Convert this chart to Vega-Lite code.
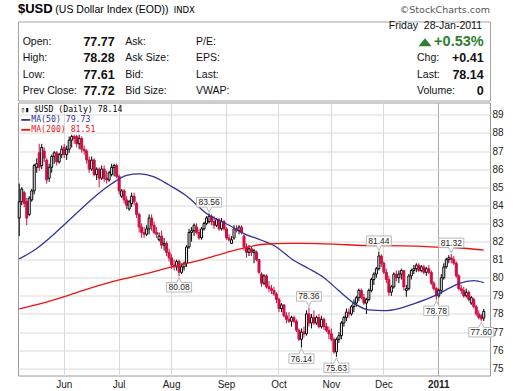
{
"$schema":"https://vega.github.io/schema/vega-lite/v6.json",
"background":"white",
"padding":{"left":16,"top":2.5,"right":0,"bottom":0},
"spacing":0,
"config":{"font":"Liberation Sans","text":{"font":"Liberation Sans"},"axisY":{"labelOverlap":false}},
"datasets":{
"hdr":[
{"row":1,"a":"Open:","b":"77.77","c":"Ask:","e":"P/E:","f":"","g":""},
{"row":2,"a":"High:","b":"78.28","c":"Ask Size:","e":"EPS:","f":"Chg:","g":"+0.41"},
{"row":3,"a":"Low:","b":"77.61","c":"Bid:","e":"Last:","f":"Last:","g":"78.14"},
{"row":4,"a":"Prev Close:","b":"77.72","c":"Bid Size:","e":"VWAP:","f":"Volume:","g":"0"}
],
"top":[
{"t":"Friday\u00a0 28-Jan-2011","row":0}
],
"px":[
{"d":"2010-05-06","o":83.3,"h":85.2,"l":82.3,"c":84.2},
{"d":"2010-05-07","o":84.2,"h":85.0,"l":84.0,"c":84.9},
{"d":"2010-05-10","o":84.7,"h":84.8,"l":83.9,"c":84.1},
{"d":"2010-05-11","o":84.2,"h":84.4,"l":82.9,"c":83.3},
{"d":"2010-05-12","o":83.5,"h":84.5,"l":83.4,"c":84.4},
{"d":"2010-05-13","o":84.3,"h":84.9,"l":84.2,"c":84.8},
{"d":"2010-05-14","o":84.8,"h":86.3,"l":84.6,"c":86.2},
{"d":"2010-05-17","o":86.1,"h":86.6,"l":85.8,"c":86.3},
{"d":"2010-05-18","o":86.9,"h":87.4,"l":85.9,"c":86.1},
{"d":"2010-05-19","o":86.2,"h":87.4,"l":86.0,"c":87.2},
{"d":"2010-05-20","o":87.0,"h":87.2,"l":86.4,"c":86.6},
{"d":"2010-05-21","o":86.5,"h":86.6,"l":85.2,"c":85.4},
{"d":"2010-05-24","o":85.5,"h":86.3,"l":85.3,"c":86.1},
{"d":"2010-05-25","o":86.1,"h":86.8,"l":85.8,"c":86.7},
{"d":"2010-05-26","o":86.7,"h":87.0,"l":86.3,"c":86.9},
{"d":"2010-05-27","o":86.9,"h":87.0,"l":86.2,"c":86.4},
{"d":"2010-05-28","o":86.4,"h":86.9,"l":86.3,"c":86.8},
{"d":"2010-05-31","o":86.8,"h":87.3,"l":86.6,"c":87.1},
{"d":"2010-06-01","o":87.2,"h":87.4,"l":86.6,"c":86.8},
{"d":"2010-06-02","o":86.8,"h":87.3,"l":86.5,"c":87.1},
{"d":"2010-06-03","o":87.1,"h":87.8,"l":86.9,"c":87.6},
{"d":"2010-06-04","o":87.6,"h":87.9,"l":87.2,"c":87.8},
{"d":"2010-06-07","o":87.8,"h":87.9,"l":87.4,"c":87.7},
{"d":"2010-06-08","o":87.8,"h":87.9,"l":87.2,"c":87.4},
{"d":"2010-06-09","o":87.4,"h":87.9,"l":87.1,"c":87.7},
{"d":"2010-06-10","o":87.7,"h":87.8,"l":86.9,"c":87.1},
{"d":"2010-06-11","o":87.1,"h":87.3,"l":86.8,"c":87.0},
{"d":"2010-06-14","o":87.0,"h":87.1,"l":86.3,"c":86.5},
{"d":"2010-06-15","o":86.5,"h":86.7,"l":85.8,"c":86.0},
{"d":"2010-06-16","o":86.0,"h":86.7,"l":85.9,"c":86.5},
{"d":"2010-06-17","o":86.5,"h":86.6,"l":85.6,"c":85.7},
{"d":"2010-06-18","o":85.7,"h":86.1,"l":85.4,"c":86.0},
{"d":"2010-06-21","o":86.0,"h":86.1,"l":85.0,"c":85.5},
{"d":"2010-06-22","o":85.5,"h":86.2,"l":85.4,"c":86.0},
{"d":"2010-06-23","o":86.0,"h":86.2,"l":85.3,"c":85.5},
{"d":"2010-06-24","o":85.5,"h":85.9,"l":85.2,"c":85.4},
{"d":"2010-06-25","o":85.4,"h":85.9,"l":85.3,"c":85.8},
{"d":"2010-06-28","o":85.7,"h":86.3,"l":85.6,"c":86.1},
{"d":"2010-06-29","o":86.1,"h":86.3,"l":85.6,"c":86.2},
{"d":"2010-06-30","o":86.2,"h":86.3,"l":85.5,"c":85.6},
{"d":"2010-07-01","o":85.6,"h":85.7,"l":84.6,"c":84.8},
{"d":"2010-07-02","o":84.5,"h":84.9,"l":84.4,"c":84.8},
{"d":"2010-07-06","o":84.8,"h":84.9,"l":84.1,"c":84.3},
{"d":"2010-07-07","o":84.3,"h":84.5,"l":83.8,"c":84.0},
{"d":"2010-07-08","o":83.8,"h":84.3,"l":83.7,"c":84.2},
{"d":"2010-07-09","o":84.1,"h":84.7,"l":83.9,"c":84.5},
{"d":"2010-07-12","o":84.5,"h":84.7,"l":84.0,"c":84.2},
{"d":"2010-07-13","o":84.1,"h":84.2,"l":83.3,"c":83.5},
{"d":"2010-07-14","o":83.5,"h":83.6,"l":82.5,"c":82.8},
{"d":"2010-07-15","o":82.8,"h":83.0,"l":82.2,"c":82.5},
{"d":"2010-07-16","o":82.5,"h":82.8,"l":82.2,"c":82.4},
{"d":"2010-07-19","o":82.4,"h":82.9,"l":82.3,"c":82.7},
{"d":"2010-07-20","o":82.7,"h":83.5,"l":82.4,"c":83.3},
{"d":"2010-07-21","o":83.3,"h":83.5,"l":82.6,"c":82.9},
{"d":"2010-07-22","o":82.9,"h":83.1,"l":82.4,"c":82.5},
{"d":"2010-07-23","o":82.5,"h":82.8,"l":82.2,"c":82.4},
{"d":"2010-07-26","o":82.1,"h":82.5,"l":82.0,"c":82.3},
{"d":"2010-07-27","o":82.3,"h":82.6,"l":81.6,"c":81.8},
{"d":"2010-07-28","o":81.8,"h":82.2,"l":81.5,"c":81.9},
{"d":"2010-07-29","o":81.9,"h":82.0,"l":81.2,"c":81.4},
{"d":"2010-07-30","o":81.4,"h":81.6,"l":80.9,"c":81.1},
{"d":"2010-08-02","o":81.1,"h":81.3,"l":80.5,"c":80.7},
{"d":"2010-08-03","o":80.7,"h":81.0,"l":80.4,"c":80.6},
{"d":"2010-08-04","o":80.6,"h":81.0,"l":80.4,"c":80.9},
{"d":"2010-08-05","o":80.9,"h":81.0,"l":80.08,"c":80.3},
{"d":"2010-08-06","o":80.3,"h":80.8,"l":80.2,"c":80.6},
{"d":"2010-08-09","o":80.6,"h":80.9,"l":80.4,"c":80.8},
{"d":"2010-08-10","o":80.8,"h":81.8,"l":80.6,"c":81.7},
{"d":"2010-08-11","o":81.7,"h":82.7,"l":81.6,"c":82.5},
{"d":"2010-08-12","o":82.5,"h":82.8,"l":82.0,"c":82.6},
{"d":"2010-08-13","o":82.6,"h":83.0,"l":82.3,"c":82.9},
{"d":"2010-08-16","o":82.8,"h":83.0,"l":82.4,"c":82.5},
{"d":"2010-08-17","o":82.5,"h":82.7,"l":82.1,"c":82.2},
{"d":"2010-08-18","o":82.2,"h":82.8,"l":82.1,"c":82.7},
{"d":"2010-08-19","o":82.7,"h":83.1,"l":82.6,"c":83.0},
{"d":"2010-08-20","o":83.0,"h":83.4,"l":82.9,"c":83.3},
{"d":"2010-08-23","o":83.1,"h":83.56,"l":83.0,"c":83.4},
{"d":"2010-08-24","o":83.4,"h":83.5,"l":82.9,"c":83.1},
{"d":"2010-08-25","o":83.1,"h":83.4,"l":82.7,"c":82.9},
{"d":"2010-08-26","o":82.9,"h":83.3,"l":82.8,"c":83.2},
{"d":"2010-08-27","o":83.2,"h":83.3,"l":82.6,"c":82.7},
{"d":"2010-08-30","o":82.7,"h":83.3,"l":82.6,"c":83.1},
{"d":"2010-08-31","o":83.1,"h":83.2,"l":82.6,"c":82.7},
{"d":"2010-09-01","o":82.7,"h":82.8,"l":82.1,"c":82.2},
{"d":"2010-09-02","o":82.2,"h":82.4,"l":82.0,"c":82.1},
{"d":"2010-09-03","o":81.9,"h":82.3,"l":81.9,"c":82.1},
{"d":"2010-09-07","o":82.2,"h":82.9,"l":82.1,"c":82.7},
{"d":"2010-09-08","o":82.7,"h":82.9,"l":82.5,"c":82.6},
{"d":"2010-09-09","o":82.6,"h":82.9,"l":82.4,"c":82.8},
{"d":"2010-09-10","o":82.8,"h":82.9,"l":82.4,"c":82.5},
{"d":"2010-09-13","o":82.3,"h":82.4,"l":81.5,"c":81.7},
{"d":"2010-09-14","o":81.7,"h":81.9,"l":81.1,"c":81.4},
{"d":"2010-09-15","o":81.4,"h":81.8,"l":81.2,"c":81.6},
{"d":"2010-09-16","o":81.6,"h":81.7,"l":81.2,"c":81.4},
{"d":"2010-09-17","o":81.4,"h":81.6,"l":80.8,"c":81.5},
{"d":"2010-09-20","o":81.4,"h":81.5,"l":80.9,"c":81.0},
{"d":"2010-09-21","o":81.0,"h":81.0,"l":80.2,"c":80.3},
{"d":"2010-09-22","o":80.2,"h":80.3,"l":79.5,"c":79.7},
{"d":"2010-09-23","o":79.7,"h":80.2,"l":79.6,"c":80.1},
{"d":"2010-09-24","o":80.1,"h":80.2,"l":79.4,"c":79.5},
{"d":"2010-09-27","o":79.5,"h":79.8,"l":79.2,"c":79.4},
{"d":"2010-09-28","o":79.4,"h":79.6,"l":79.1,"c":79.3},
{"d":"2010-09-29","o":79.3,"h":79.5,"l":79.0,"c":79.1},
{"d":"2010-09-30","o":79.1,"h":79.2,"l":78.6,"c":78.8},
{"d":"2010-10-01","o":78.8,"h":78.9,"l":78.1,"c":78.3},
{"d":"2010-10-04","o":78.3,"h":78.6,"l":78.1,"c":78.5},
{"d":"2010-10-05","o":78.5,"h":78.5,"l":77.8,"c":77.9},
{"d":"2010-10-06","o":77.9,"h":78.1,"l":77.5,"c":77.7},
{"d":"2010-10-07","o":77.7,"h":78.1,"l":77.5,"c":77.6},
{"d":"2010-10-08","o":77.6,"h":77.9,"l":77.3,"c":77.8},
{"d":"2010-10-11","o":77.8,"h":77.9,"l":77.5,"c":77.6},
{"d":"2010-10-12","o":77.6,"h":77.7,"l":77.0,"c":77.1},
{"d":"2010-10-13","o":77.1,"h":77.2,"l":76.5,"c":76.6},
{"d":"2010-10-14","o":76.6,"h":77.2,"l":76.14,"c":77.0},
{"d":"2010-10-15","o":77.0,"h":77.3,"l":76.7,"c":76.9},
{"d":"2010-10-18","o":76.9,"h":78.2,"l":76.8,"c":78.0},
{"d":"2010-10-19","o":78.0,"h":78.36,"l":77.3,"c":77.5},
{"d":"2010-10-20","o":77.5,"h":78.0,"l":77.2,"c":77.8},
{"d":"2010-10-21","o":77.8,"h":78.2,"l":77.4,"c":77.5},
{"d":"2010-10-22","o":77.5,"h":77.9,"l":77.4,"c":77.8},
{"d":"2010-10-25","o":77.8,"h":78.0,"l":77.2,"c":77.3},
{"d":"2010-10-26","o":77.3,"h":77.9,"l":77.2,"c":77.7},
{"d":"2010-10-27","o":77.7,"h":77.8,"l":77.1,"c":77.3},
{"d":"2010-10-28","o":77.3,"h":77.5,"l":77.0,"c":77.1},
{"d":"2010-10-29","o":77.1,"h":77.3,"l":76.6,"c":76.9},
{"d":"2010-11-01","o":76.9,"h":77.2,"l":76.5,"c":76.6},
{"d":"2010-11-02","o":76.6,"h":76.7,"l":75.8,"c":75.9},
{"d":"2010-11-03","o":75.9,"h":76.7,"l":75.63,"c":76.6},
{"d":"2010-11-04","o":76.6,"h":77.0,"l":76.4,"c":76.8},
{"d":"2010-11-05","o":76.8,"h":77.6,"l":76.6,"c":77.5},
{"d":"2010-11-08","o":77.5,"h":77.9,"l":77.3,"c":77.8},
{"d":"2010-11-09","o":77.8,"h":78.3,"l":77.6,"c":78.1},
{"d":"2010-11-10","o":78.1,"h":78.3,"l":77.8,"c":78.0},
{"d":"2010-11-11","o":78.0,"h":78.5,"l":77.9,"c":78.4},
{"d":"2010-11-12","o":78.4,"h":78.8,"l":78.1,"c":78.6},
{"d":"2010-11-15","o":78.6,"h":79.0,"l":78.4,"c":78.9},
{"d":"2010-11-16","o":78.9,"h":79.4,"l":78.7,"c":79.3},
{"d":"2010-11-17","o":79.3,"h":79.4,"l":78.8,"c":78.9},
{"d":"2010-11-18","o":78.9,"h":79.1,"l":78.5,"c":78.6},
{"d":"2010-11-19","o":78.6,"h":78.9,"l":78.0,"c":78.8},
{"d":"2010-11-22","o":78.8,"h":79.4,"l":78.7,"c":79.3},
{"d":"2010-11-23","o":79.3,"h":80.0,"l":79.2,"c":79.9},
{"d":"2010-11-24","o":79.9,"h":80.3,"l":79.6,"c":80.2},
{"d":"2010-11-26","o":80.2,"h":80.6,"l":80.0,"c":80.5},
{"d":"2010-11-29","o":80.5,"h":81.44,"l":80.4,"c":81.2},
{"d":"2010-11-30","o":81.2,"h":81.3,"l":80.6,"c":80.8},
{"d":"2010-12-01","o":80.8,"h":80.9,"l":80.2,"c":80.3},
{"d":"2010-12-02","o":80.3,"h":80.5,"l":79.7,"c":79.9},
{"d":"2010-12-03","o":79.9,"h":80.1,"l":79.0,"c":79.2},
{"d":"2010-12-06","o":79.2,"h":79.6,"l":79.0,"c":79.5},
{"d":"2010-12-07","o":79.5,"h":80.3,"l":79.4,"c":80.2},
{"d":"2010-12-08","o":80.2,"h":80.4,"l":79.8,"c":80.0},
{"d":"2010-12-09","o":80.0,"h":80.4,"l":79.7,"c":80.2},
{"d":"2010-12-10","o":80.2,"h":80.5,"l":79.9,"c":80.4},
{"d":"2010-12-13","o":80.4,"h":80.4,"l":79.3,"c":79.5},
{"d":"2010-12-14","o":79.3,"h":79.6,"l":78.95,"c":79.4},
{"d":"2010-12-15","o":79.4,"h":80.2,"l":79.3,"c":80.1},
{"d":"2010-12-16","o":80.1,"h":80.5,"l":79.9,"c":80.4},
{"d":"2010-12-17","o":80.4,"h":80.7,"l":80.2,"c":80.5},
{"d":"2010-12-20","o":80.5,"h":80.8,"l":80.3,"c":80.7},
{"d":"2010-12-21","o":80.7,"h":80.8,"l":80.3,"c":80.4},
{"d":"2010-12-22","o":80.4,"h":80.7,"l":80.3,"c":80.6},
{"d":"2010-12-23","o":80.6,"h":80.7,"l":80.2,"c":80.3},
{"d":"2010-12-27","o":80.3,"h":80.6,"l":80.1,"c":80.5},
{"d":"2010-12-28","o":80.5,"h":80.7,"l":80.2,"c":80.3},
{"d":"2010-12-29","o":80.3,"h":80.4,"l":79.6,"c":79.7},
{"d":"2010-12-30","o":79.7,"h":79.8,"l":79.3,"c":79.4},
{"d":"2010-12-31","o":79.4,"h":79.5,"l":78.78,"c":79.0},
{"d":"2011-01-03","o":79.0,"h":79.4,"l":78.9,"c":79.3},
{"d":"2011-01-04","o":79.3,"h":80.2,"l":79.1,"c":80.0},
{"d":"2011-01-05","o":80.0,"h":80.8,"l":79.9,"c":80.6},
{"d":"2011-01-06","o":80.6,"h":81.1,"l":80.5,"c":81.0},
{"d":"2011-01-07","o":81.0,"h":81.25,"l":80.8,"c":81.1},
{"d":"2011-01-10","o":81.1,"h":81.32,"l":80.8,"c":81.0},
{"d":"2011-01-11","o":81.0,"h":81.2,"l":80.7,"c":80.8},
{"d":"2011-01-12","o":80.8,"h":80.9,"l":80.0,"c":80.1},
{"d":"2011-01-13","o":80.1,"h":80.2,"l":79.3,"c":79.4},
{"d":"2011-01-14","o":79.4,"h":79.6,"l":79.1,"c":79.3},
{"d":"2011-01-18","o":79.3,"h":79.5,"l":78.9,"c":79.0},
{"d":"2011-01-19","o":79.0,"h":79.4,"l":78.9,"c":79.2},
{"d":"2011-01-20","o":79.2,"h":79.3,"l":78.7,"c":78.8},
{"d":"2011-01-21","o":78.6,"h":79.0,"l":78.5,"c":78.9},
{"d":"2011-01-24","o":78.8,"h":78.9,"l":78.3,"c":78.4},
{"d":"2011-01-25","o":78.4,"h":78.5,"l":77.9,"c":78.0},
{"d":"2011-01-26","o":78.0,"h":78.2,"l":77.7,"c":77.8},
{"d":"2011-01-27","o":77.9,"h":78.0,"l":77.6,"c":77.72},
{"d":"2011-01-28","o":77.77,"h":78.28,"l":77.61,"c":78.14}
],
"ma":[
{"d":"2010-05-06","s":"MA50","v":81.04},{"d":"2010-05-17","s":"MA50","v":81.62},{"d":"2010-05-26","s":"MA50","v":82.42},{"d":"2010-06-01","s":"MA50","v":82.93},{"d":"2010-06-09","s":"MA50","v":83.7},{"d":"2010-06-17","s":"MA50","v":84.45},{"d":"2010-06-28","s":"MA50","v":85.19},{"d":"2010-07-07","s":"MA50","v":85.66},{"d":"2010-07-14","s":"MA50","v":85.74},{"d":"2010-07-22","s":"MA50","v":85.57},{"d":"2010-07-30","s":"MA50","v":85.12},{"d":"2010-08-10","s":"MA50","v":84.52},{"d":"2010-08-20","s":"MA50","v":83.55},{"d":"2010-09-02","s":"MA50","v":82.9},{"d":"2010-09-13","s":"MA50","v":82.44},{"d":"2010-09-22","s":"MA50","v":82.07},{"d":"2010-09-29","s":"MA50","v":81.78},{"d":"2010-10-11","s":"MA50","v":80.95},{"d":"2010-10-19","s":"MA50","v":80.5},{"d":"2010-10-27","s":"MA50","v":80.0},{"d":"2010-11-04","s":"MA50","v":79.28},{"d":"2010-11-12","s":"MA50","v":78.6},{"d":"2010-11-22","s":"MA50","v":78.22},{"d":"2010-12-01","s":"MA50","v":78.18},{"d":"2010-12-09","s":"MA50","v":78.3},{"d":"2010-12-17","s":"MA50","v":78.56},{"d":"2010-12-30","s":"MA50","v":78.98},{"d":"2011-01-05","s":"MA50","v":79.26},{"d":"2011-01-13","s":"MA50","v":79.68},{"d":"2011-01-24","s":"MA50","v":79.84},{"d":"2011-01-28","s":"MA50","v":79.73},
{"d":"2010-05-06","s":"MA200","v":78.28},{"d":"2010-05-17","s":"MA200","v":78.51},{"d":"2010-06-01","s":"MA200","v":78.96},{"d":"2010-06-11","s":"MA200","v":79.32},{"d":"2010-07-01","s":"MA200","v":79.88},{"d":"2010-07-16","s":"MA200","v":80.2},{"d":"2010-08-02","s":"MA200","v":80.6},{"d":"2010-08-19","s":"MA200","v":81.03},{"d":"2010-08-31","s":"MA200","v":81.35},{"d":"2010-09-23","s":"MA200","v":81.85},{"d":"2010-10-07","s":"MA200","v":81.9},{"d":"2010-10-15","s":"MA200","v":81.9},{"d":"2010-11-02","s":"MA200","v":81.86},{"d":"2010-11-18","s":"MA200","v":81.78},{"d":"2010-12-13","s":"MA200","v":81.76},{"d":"2011-01-03","s":"MA200","v":81.69},{"d":"2011-01-18","s":"MA200","v":81.63},{"d":"2011-01-28","s":"MA200","v":81.52}
],
"co":[
{"d":"2010-08-23","v":83.56,"k":"hi"},
{"d":"2010-08-05","v":80.08,"k":"lo"},
{"d":"2010-10-19","v":78.36,"k":"hi"},
{"d":"2010-10-14","v":76.14,"k":"lo"},
{"d":"2010-11-03","v":75.63,"k":"lo"},
{"d":"2010-11-29","v":81.44,"k":"hi"},
{"d":"2011-01-10","v":81.32,"k":"hi"},
{"d":"2010-12-31","v":78.78,"k":"lo"},
{"d":"2011-01-27","v":77.60,"k":"lo"}
]
},
"vconcat":[
{
"width":472,"height":79,
"view":{"stroke":"#a3a3a3","strokeWidth":1},
"layer":[
{"data":{"name":"hdr"},"mark":{"type":"text","align":"left","baseline":"middle","font":"Liberation Sans","fontSize":10.5,"color":"#111"},
 "encoding":{"x":{"datum":4.7,"type":"quantitative","scale":{"domain":[0,472],"nice":false,"zero":false},"axis":null},
  "y":{"field":"row","type":"quantitative","scale":{"domain":[-0.277,4.585],"nice":false,"zero":false,"reverse":true},"axis":null},"text":{"field":"a"}}},
{"data":{"name":"hdr"},"mark":{"type":"text","align":"right","baseline":"middle","font":"Liberation Sans","fontSize":12.5,"fontWeight":"bold","color":"#111"},
 "encoding":{"x":{"datum":96.7,"type":"quantitative","scale":{"domain":[0,472],"nice":false,"zero":false},"axis":null},
  "y":{"field":"row","type":"quantitative","scale":{"domain":[-0.277,4.585],"nice":false,"zero":false,"reverse":true},"axis":null},"text":{"field":"b"}}},
{"data":{"name":"hdr"},"mark":{"type":"text","align":"left","baseline":"middle","font":"Liberation Sans","fontSize":10.5,"color":"#111"},
 "encoding":{"x":{"datum":107.3,"type":"quantitative","scale":{"domain":[0,472],"nice":false,"zero":false},"axis":null},
  "y":{"field":"row","type":"quantitative","scale":{"domain":[-0.277,4.585],"nice":false,"zero":false,"reverse":true},"axis":null},"text":{"field":"c"}}},
{"data":{"name":"hdr"},"mark":{"type":"text","align":"left","baseline":"middle","font":"Liberation Sans","fontSize":10.5,"color":"#111"},
 "encoding":{"x":{"datum":178,"type":"quantitative","scale":{"domain":[0,472],"nice":false,"zero":false},"axis":null},
  "y":{"field":"row","type":"quantitative","scale":{"domain":[-0.277,4.585],"nice":false,"zero":false,"reverse":true},"axis":null},"text":{"field":"e"}}},
{"data":{"name":"hdr"},"mark":{"type":"text","align":"left","baseline":"middle","font":"Liberation Sans","fontSize":10.5,"color":"#111"},
 "encoding":{"x":{"datum":399,"type":"quantitative","scale":{"domain":[0,472],"nice":false,"zero":false},"axis":null},
  "y":{"field":"row","type":"quantitative","scale":{"domain":[-0.277,4.585],"nice":false,"zero":false,"reverse":true},"axis":null},"text":{"field":"f"}}},
{"data":{"name":"hdr"},"mark":{"type":"text","align":"right","baseline":"middle","font":"Liberation Sans","fontSize":12.5,"fontWeight":"bold","color":"#111"},
 "encoding":{"x":{"datum":465.7,"type":"quantitative","scale":{"domain":[0,472],"nice":false,"zero":false},"axis":null},
  "y":{"field":"row","type":"quantitative","scale":{"domain":[-0.277,4.585],"nice":false,"zero":false,"reverse":true},"axis":null},"text":{"field":"g"}}},
{"data":{"name":"top"},"mark":{"type":"text","align":"right","baseline":"middle","font":"Liberation Sans","fontSize":10.5,"color":"#111"},
 "encoding":{"x":{"datum":464,"type":"quantitative","scale":{"domain":[0,472],"nice":false,"zero":false},"axis":null},
  "y":{"field":"row","type":"quantitative","scale":{"domain":[-0.277,4.585],"nice":false,"zero":false,"reverse":true},"axis":null},"text":{"field":"t"}}},
{"data":{"values":[{"t":"+0.53%"}]},
 "mark":{"type":"text","align":"right","baseline":"middle","font":"Liberation Sans","fontSize":14.5,"fontWeight":"bold","color":"#2f7f2f"},
 "encoding":{"x":{"datum":465.7,"type":"quantitative","scale":{"domain":[0,472],"nice":false,"zero":false},"axis":null},
  "y":{"datum":1,"type":"quantitative","scale":{"domain":[-0.277,4.585],"nice":false,"zero":false,"reverse":true},"axis":null},"text":{"field":"t"}}},
{"data":{"values":[{"t":"up"}]},
 "mark":{"type":"point","shape":"M-1,0.62L0,-0.62L1,0.62Z","size":169,"filled":true,"color":"#2f7f2f","opacity":1},
 "encoding":{"x":{"datum":407,"type":"quantitative","scale":{"domain":[0,472],"nice":false,"zero":false},"axis":null},
  "y":{"datum":1,"type":"quantitative","scale":{"domain":[-0.277,4.585],"nice":false,"zero":false,"reverse":true},"axis":null}}},
{"data":{"values":[{"t":"$USD"}]},
 "mark":{"type":"text","align":"left","baseline":"alphabetic","font":"Liberation Sans","fontSize":13,"fontWeight":"bold","color":"#000"},
 "encoding":{"x":{"datum":0,"type":"quantitative","scale":{"domain":[0,472],"nice":false,"zero":false},"axis":null},
  "y":{"datum":-0.775,"type":"quantitative","scale":{"domain":[-0.277,4.585],"nice":false,"zero":false,"reverse":true},"axis":null},"text":{"field":"t"}}},
{"data":{"values":[{"t":"(US Dollar Index (EOD))"}]},
 "mark":{"type":"text","align":"left","baseline":"alphabetic","font":"Liberation Sans","fontSize":10.5,"color":"#000"},
 "encoding":{"x":{"datum":37.3,"type":"quantitative","scale":{"domain":[0,472],"nice":false,"zero":false},"axis":null},
  "y":{"datum":-0.775,"type":"quantitative","scale":{"domain":[-0.277,4.585],"nice":false,"zero":false,"reverse":true},"axis":null},"text":{"field":"t"}}},
{"data":{"values":[{"t":"INDX"}]},
 "mark":{"type":"text","align":"left","baseline":"alphabetic","font":"DejaVu Sans","fontSize":8.5,"color":"#000"},
 "encoding":{"x":{"datum":155.7,"type":"quantitative","scale":{"domain":[0,472],"nice":false,"zero":false},"axis":null},
  "y":{"datum":-0.775,"type":"quantitative","scale":{"domain":[-0.277,4.585],"nice":false,"zero":false,"reverse":true},"axis":null},"text":{"field":"t"}}},
{"data":{"values":[{"t":"\u00a9StockCharts.com"}]},
 "mark":{"type":"text","align":"right","baseline":"alphabetic","font":"DejaVu Sans","fontSize":9.5,"color":"#555"},
 "encoding":{"x":{"datum":472,"type":"quantitative","scale":{"domain":[0,472],"nice":false,"zero":false},"axis":null},
  "y":{"datum":-0.775,"type":"quantitative","scale":{"domain":[-0.277,4.585],"nice":false,"zero":false,"reverse":true},"axis":null},"text":{"field":"t"}}}
]
},
{
"width":472,"height":273,
"view":{"stroke":"#9a9a9a","strokeWidth":1},
"encoding":{"x":{"field":"d","type":"ordinal","title":null,
  "scale":{"type":"band","paddingInner":0,"paddingOuter":0,"domain":{"unionWith":["2011-01-31","2011-02-01"]}},
  "axis":{"values":["2010-06-01","2010-07-01","2010-08-02","2010-09-01","2010-10-01","2010-11-01","2010-12-01","2011-01-03"],
    "labelExpr":"datum.value == '2011-01-03' ? '2011' : utcFormat(toDate(datum.value), '%b')",
    "bandPosition":0.5,"grid":true,
    "gridColor":{"condition":{"test":"datum.value == '2011-01-03'","value":"#a8a8a8"},"value":"#dadada"},
    "ticks":false,"domain":false,"labelAngle":0,"labelPadding":4,"labelFont":"Liberation Sans","labelFontSize":10,"labelColor":"#222",
    "labelFontWeight":{"condition":{"test":"datum.value == '2011-01-03'","value":"bold"},"value":"normal"},"title":null}}},
"layer":[
{"data":{"name":"px"},
 "mark":{"type":"rule","strokeWidth":1},
 "encoding":{"y":{"field":"l","type":"quantitative","title":null,"scale":{"domain":[74.6,89.68],"nice":false,"zero":false},
   "axis":{"orient":"right","values":[75,76,77,78,79,80,81,82,83,84,85,86,87,88,89],"format":"d","tickCount":30,"labelOverlap":false,"grid":true,"gridColor":"#dadada","ticks":false,"domain":false,"labelFont":"Liberation Sans","labelFontSize":10,"labelColor":"#222","labelPadding":2,"title":null}},
   "y2":{"field":"h"},
   "color":{"condition":{"test":"datum.c < datum.o","value":"#cc1144"},"value":"#000000"}}},
{"data":{"name":"px"},
 "mark":{"type":"bar","width":2,"strokeWidth":1},
 "encoding":{"y":{"field":"o","type":"quantitative","title":null,"scale":{"domain":[74.6,89.68],"nice":false,"zero":false},
   "axis":{"orient":"right","values":[75,76,77,78,79,80,81,82,83,84,85,86,87,88,89],"format":"d","tickCount":30,"labelOverlap":false,"grid":true,"gridColor":"#dadada","ticks":false,"domain":false,"labelFont":"Liberation Sans","labelFontSize":10,"labelColor":"#222","labelPadding":2,"title":null}},
   "y2":{"field":"c"},
   "fill":{"condition":{"test":"datum.c < datum.o","value":"#cc1144"},"value":"#ffffff"},
   "stroke":{"condition":{"test":"datum.c < datum.o","value":"#cc1144"},"value":"#000000"}}},
{"data":{"name":"ma"},
 "mark":{"type":"line","strokeWidth":1.3,"interpolate":"monotone"},
 "encoding":{"y":{"field":"v","type":"quantitative","title":null,"scale":{"domain":[74.6,89.68],"nice":false,"zero":false},
   "axis":{"orient":"right","values":[75,76,77,78,79,80,81,82,83,84,85,86,87,88,89],"format":"d","tickCount":30,"labelOverlap":false,"grid":true,"gridColor":"#dadada","ticks":false,"domain":false,"labelFont":"Liberation Sans","labelFontSize":10,"labelColor":"#222","labelPadding":2,"title":null}},
   "color":{"field":"s","type":"nominal","scale":{"domain":["MA50","MA200"],"range":["#333399","#ee1111"]},"legend":null}}},
{"data":{"name":"co"},"transform":[{"filter":"datum.k == 'hi'"}],
 "mark":{"type":"point","shape":"M-1,-0.38H1V0.38H0.2L0,0.8L-0.2,0.38H-1Z","size":625,"filled":true,"fill":"#ffffff","stroke":"#b8b8b8","strokeWidth":1,"opacity":1,"yOffset":-11},
 "encoding":{"y":{"field":"v","type":"quantitative","title":null,"scale":{"domain":[74.6,89.68],"nice":false,"zero":false}}}},
{"data":{"name":"co"},"transform":[{"filter":"datum.k == 'hi'"}],
 "mark":{"type":"text","baseline":"middle","dy":-11,"font":"Liberation Sans","fontSize":8.5,"color":"#222"},
 "encoding":{"y":{"field":"v","type":"quantitative","title":null,"scale":{"domain":[74.6,89.68],"nice":false,"zero":false}},
   "text":{"field":"v","type":"quantitative","format":".2f"}}},
{"data":{"name":"co"},"transform":[{"filter":"datum.k == 'lo'"}],
 "mark":{"type":"point","shape":"M-1,0.38H1V-0.38H0.2L0,-0.8L-0.2,-0.38H-1Z","size":625,"filled":true,"fill":"#ffffff","stroke":"#b8b8b8","strokeWidth":1,"opacity":1,"yOffset":11},
 "encoding":{"y":{"field":"v","type":"quantitative","title":null,"scale":{"domain":[74.6,89.68],"nice":false,"zero":false}}}},
{"data":{"name":"co"},"transform":[{"filter":"datum.k == 'lo'"}],
 "mark":{"type":"text","baseline":"middle","dy":11,"font":"Liberation Sans","fontSize":8.5,"color":"#222"},
 "encoding":{"y":{"field":"v","type":"quantitative","title":null,"scale":{"domain":[74.6,89.68],"nice":false,"zero":false}},
   "text":{"field":"v","type":"quantitative","format":".2f"}}},
{"data":{"values":[{"t":"\u25af\u25ae"}]},
 "mark":{"type":"text","align":"left","baseline":"middle","dx":1.5,"font":"DejaVu Sans Mono","fontSize":7,"color":"#000"},
 "encoding":{"x":{"datum":"2010-05-06","type":"ordinal","title":null,"scale":{"type":"band","paddingInner":0,"paddingOuter":0,"domain":{"unionWith":["2011-01-31","2011-02-01"]}}},
   "y":{"datum":89.28,"type":"quantitative","title":null,"scale":{"domain":[74.6,89.68],"nice":false,"zero":false}},"text":{"field":"t"}}},
{"data":{"values":[{"t":"$USD (Daily) 78.14"}]},
 "mark":{"type":"text","align":"left","baseline":"middle","dx":14.4,"font":"DejaVu Sans Mono","fontSize":8.2,"color":"#000"},
 "encoding":{"x":{"datum":"2010-05-06","type":"ordinal","title":null,"scale":{"type":"band","paddingInner":0,"paddingOuter":0,"domain":{"unionWith":["2011-01-31","2011-02-01"]}}},
   "y":{"datum":89.28,"type":"quantitative","title":null,"scale":{"domain":[74.6,89.68],"nice":false,"zero":false}},"text":{"field":"t"}}},
{"data":{"values":[{"s":"MA50","y":88.72},{"s":"MA200","y":88.17}]},
 "mark":{"type":"point","shape":"M-1,-0.2H1V0.2H-1Z","size":81,"filled":true,"opacity":1,"xOffset":6.5},
 "encoding":{"x":{"datum":"2010-05-06","type":"ordinal","title":null,"scale":{"type":"band","paddingInner":0,"paddingOuter":0,"domain":{"unionWith":["2011-01-31","2011-02-01"]}}},
   "y":{"field":"y","type":"quantitative","title":null,"scale":{"domain":[74.6,89.68],"nice":false,"zero":false}},
   "color":{"field":"s","type":"nominal","scale":{"domain":["MA50","MA200"],"range":["#333399","#ee1111"]},"legend":null}}},
{"data":{"values":[{"t":"MA(50) 79.73"}]},
 "mark":{"type":"text","align":"left","baseline":"middle","dx":12,"font":"DejaVu Sans Mono","fontSize":8.2,"color":"#333399"},
 "encoding":{"x":{"datum":"2010-05-06","type":"ordinal","title":null,"scale":{"type":"band","paddingInner":0,"paddingOuter":0,"domain":{"unionWith":["2011-01-31","2011-02-01"]}}},
   "y":{"datum":88.72,"type":"quantitative","title":null,"scale":{"domain":[74.6,89.68],"nice":false,"zero":false}},"text":{"field":"t"}}},
{"data":{"values":[{"t":"MA(200) 81.51"}]},
 "mark":{"type":"text","align":"left","baseline":"middle","dx":12,"font":"DejaVu Sans Mono","fontSize":8.2,"color":"#ee1111"},
 "encoding":{"x":{"datum":"2010-05-06","type":"ordinal","title":null,"scale":{"type":"band","paddingInner":0,"paddingOuter":0,"domain":{"unionWith":["2011-01-31","2011-02-01"]}}},
   "y":{"datum":88.17,"type":"quantitative","title":null,"scale":{"domain":[74.6,89.68],"nice":false,"zero":false}},"text":{"field":"t"}}}
]
}
]
}
